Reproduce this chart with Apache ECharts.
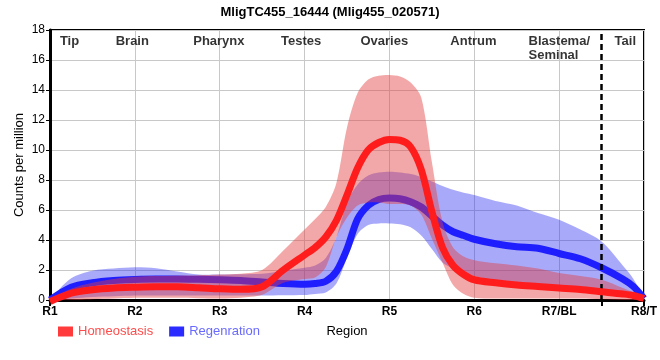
<!DOCTYPE html>
<html>
<head>
<meta charset="utf-8">
<script src="https://cdn.jsdelivr.net/npm/echarts@6/dist/echarts.min.js"></script>
<style>html,body{margin:0;padding:0;background:#fff}#c{width:660px;height:360px}</style>
</head>
<body>
<div id="c"></div>
<script>
// Region ticks (x axis)
const regionTicks = ['R1','R2','R3','R4','R5','R6','R7/BL','R8/T'];
// Anatomical labels along the top
const anatomyNames = ['Tip','Brain','Pharynx','Testes','Ovaries','Antrum','Blastema/\nSeminal','Tail'];
const anatomyX = [0.23, 0.97, 1.99, 2.96, 3.94, 4.99, 5.64, 6.78];
const boundaryX = 6.5;

// Common sampling positions along the region axis
const xs = [0,0.25,0.5,0.75,1,1.25,1.5,1.75,2,2.25,2.5,2.75,3,3.125,3.25,3.375,3.5,3.625,3.75,3.875,4,4.125,4.25,4.375,4.5,4.625,4.75,4.875,5,5.25,5.5,5.75,6,6.25,6.5,6.75,6.875,7];

// Homeostasis
const homMean  = [-0.1,0.45,0.68,0.8,0.85,0.88,0.88,0.82,0.75,0.71,0.88,2.0,3.0,3.5,4.2,5.3,7.0,8.8,10.0,10.5,10.7,10.65,10.2,8.7,5.9,3.5,2.3,1.7,1.35,1.15,1.0,0.9,0.8,0.7,0.55,0.4,0.3,0.1];
const homUpper = [0,0.75,1.15,1.4,1.55,1.6,1.62,1.65,1.7,1.75,2.0,3.3,4.7,5.4,6.2,7.8,11.5,13.8,14.7,14.95,15.0,14.9,14.5,13.5,9.2,5.2,3.5,2.9,2.65,2.45,2.3,2.1,1.8,1.6,1.35,0.8,0.5,0.1];
const homLower = [-0.2,-0.05,0.05,0.1,0.15,0.15,0.15,0.12,0.1,0.15,0.35,1.15,1.4,1.5,2.2,4.2,5.5,6.3,6.5,6.5,6.4,6.4,6.3,5.7,4.1,2.5,1.0,0.4,0.15,0.1,0.1,0.1,0.1,0.1,0.05,0.0,-0.05,-0.1];

// Regeneration
const regMean  = [0,0.85,1.15,1.3,1.37,1.4,1.4,1.38,1.35,1.3,1.2,1.1,1.05,1.1,1.25,1.9,3.4,5.4,6.3,6.7,6.8,6.75,6.55,6.2,5.6,5.0,4.55,4.3,4.05,3.75,3.55,3.45,3.1,2.75,2.15,1.4,0.9,0.1];
const regUpper = [0.05,1.45,1.95,2.1,2.18,2.12,1.9,1.7,1.7,1.72,1.75,1.95,2.15,2.3,2.8,4.2,6.5,7.7,8.3,8.5,8.55,8.5,8.4,8.2,7.9,7.6,7.35,7.15,7.0,6.6,6.3,5.8,5.35,4.7,3.9,2.3,1.4,0.1];
const regLower = [0,0.1,0.2,0.25,0.3,0.3,0.3,0.3,0.3,0.3,0.3,0.32,0.33,0.4,0.5,1.1,2.8,4.4,5.0,5.1,5.1,5.05,4.85,4.3,3.4,2.5,2.1,1.8,1.6,1.25,1.05,0.95,0.85,0.7,0.5,0.3,0.2,0.05];

const SANS = "'Liberation Sans',Arial,sans-serif";
const pairs = (ys) => xs.map((x,i) => [x, ys[i]]);

function band(name, lower, upper, color, z) {
  return {
    type:'custom', name:name, silent:true, z:z, clip:true,
    data:[[xs[0], lower[0]]],
    encode:{x:0, y:1},
    renderItem:(params, api) => {
      if (params.dataIndex !== 0) return null;
      const up = xs.map((x,i)=>api.coord([x, upper[i]]));
      const lo = xs.map((x,i)=>api.coord([x, lower[i]])).reverse();
      return {type:'polygon', shape:{points: up.concat(lo), smooth:0.3}, style:{fill: color}};
    }
  };
}

const chart = echarts.init(document.getElementById('c'), null, {renderer:'canvas'});
chart.setOption({
  animation:false,
  backgroundColor:'#fff',
  title:{text:'MligTC455_16444 (Mlig455_020571)', left:'center', top:1,
    textStyle:{fontFamily:SANS, fontWeight:'bold', fontSize:13, color:'#000'}},
  grid:{left:50, right:10, top:30, bottom:60, show:true, borderColor:'#000', borderWidth:2},
  legend:{left:53, top:320, icon:'rect', itemWidth:15, itemHeight:10, itemGap:16,
    textStyle:{fontFamily:SANS, fontSize:13},
    data:[{name:'Homeostasis', itemStyle:{color:'#ff3b3b'}, textStyle:{color:'#ff4d4d'}},
          {name:'Regenration', itemStyle:{color:'#2b2bff'}, textStyle:{color:'#6a6aff'}}]},
  xAxis:[{type:'value', min:0, max:7, interval:1, name:'Region', nameLocation:'middle', nameGap:25,
    nameTextStyle:{fontFamily:SANS, fontSize:13, color:'#000'},
    axisLine:{show:true, onZero:false, lineStyle:{color:'#000', width:3}},
    axisTick:{show:false},
    axisLabel:{formatter:(v)=>regionTicks[v] ?? '', fontFamily:SANS, fontWeight:'bold', fontSize:12, color:'#000', margin:6},
    splitLine:{show:true, lineStyle:{color:'#c8c8c8', width:1}}},
   {type:'value', min:0, max:7, interval:boundaryX, position:'bottom',
    axisLine:{show:false}, axisLabel:{show:false}, splitLine:{show:false},
    axisTick:{show:true, length:6, lineStyle:{color:'#000', width:2}}}],
  yAxis:{type:'value', min:0, max:18, interval:2, name:'Counts per million', nameLocation:'middle', nameGap:24,
    nameMoveOverlap:false,
    nameTextStyle:{fontFamily:SANS, fontSize:13, color:'#000'},
    axisLine:{show:true, lineStyle:{color:'#000', width:3}},
    axisTick:{show:true, length:4, lineStyle:{color:'#000', width:1}},
    axisLabel:{fontFamily:SANS, fontSize:12, color:'#000', margin:5},
    splitLine:{show:true, lineStyle:{color:'#c8c8c8', width:1}}},
  series:[
    band('regBand', regLower, regUpper, 'rgba(40,40,240,0.4)', 2),
    {type:'line', name:'Regenration', data:pairs(regMean), symbol:'none', smooth:0.3,
     lineStyle:{color:'#1e1eff', width:7}, itemStyle:{color:'#2b2bff'}, z:3},
    band('homBand', homLower, homUpper, 'rgba(226,62,62,0.45)', 4),
    {type:'line', name:'Homeostasis', data:pairs(homMean), symbol:'none', smooth:0.3,
     lineStyle:{color:'#ff1c1c', width:7}, itemStyle:{color:'#ff3b3b'}, z:5, clip:false,
     markLine:{silent:true, symbol:'none', label:{show:false},
       lineStyle:{color:'#000', width:2.5, type:[6,4]}, data:[{xAxis:boundaryX}]}},
    {type:'scatter', name:'anatomy', symbolSize:0, silent:true, z:10,
     data: anatomyNames.map((n,i)=>({name:n, value:[anatomyX[i], 17.7]})),
     label:{show:true, position:'inside', formatter:(p)=>p.name, fontFamily:SANS, fontWeight:'bold', fontSize:13,
       color:'#000', lineHeight:14, verticalAlign:'top', align:'center'},
     labelLayout:(p)=> p.text && p.text.indexOf('Blastema')===0 ? {align:'left'} : {}}
  ]
});
</script>
</body>
</html>
